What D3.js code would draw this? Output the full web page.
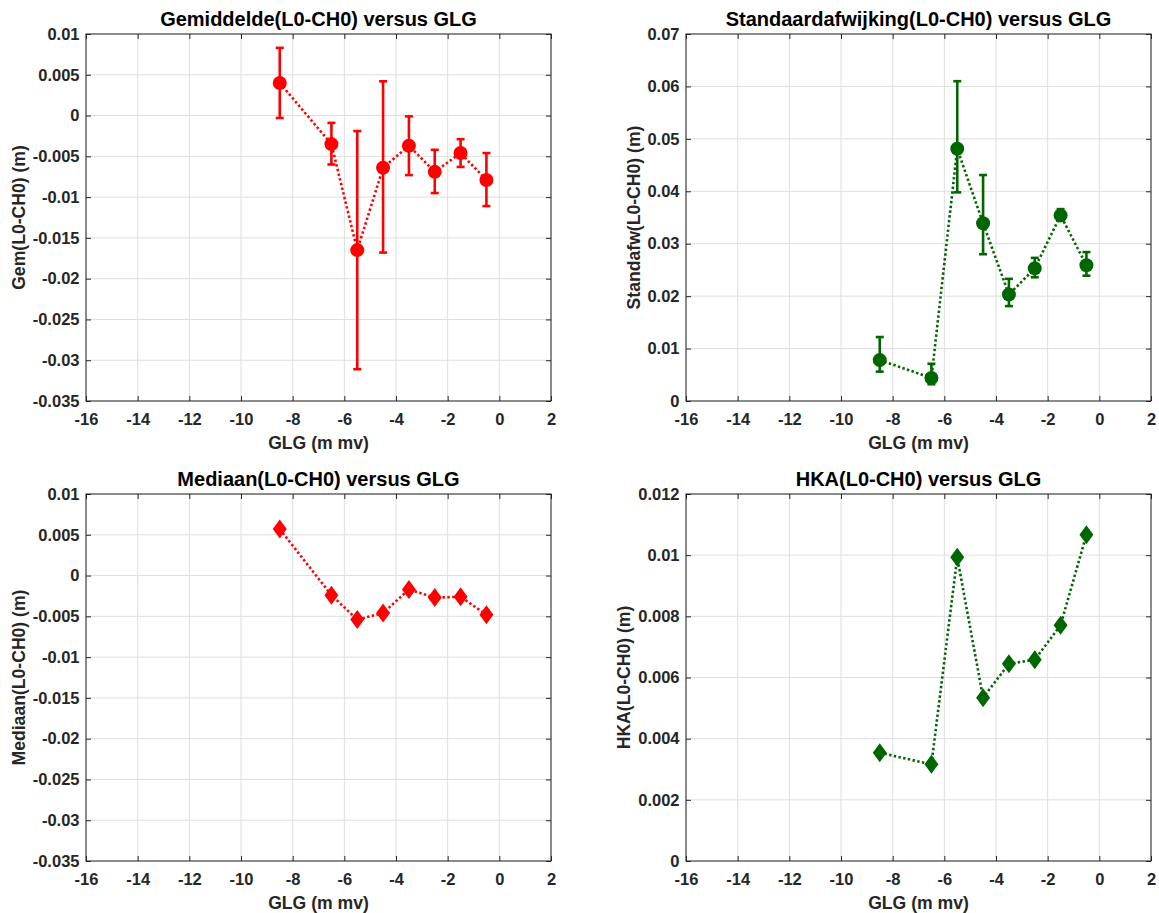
<!DOCTYPE html>
<html>
<head>
<meta charset="utf-8">
<script src="https://cdn.jsdelivr.net/npm/d3@7"></script>
<style>
  body { margin: 0; background: #fff; }
  svg { font-family: "Liberation Sans", Arial, sans-serif; font-weight: bold; }
</style>
</head>
<body>
<div id="chart"></div>
<script>
// GLG classes (m mv), same for all four panels
const glg = [-8.5, -6.5, -5.5, -4.5, -3.5, -2.5, -1.5, -0.5];
const xTicks = [-16, -14, -12, -10, -8, -6, -4, -2, 0, 2];

// Gemiddelde with error bar ends
const gemValues = [0.0040, -0.0035, -0.0165, -0.0064, -0.0037, -0.0069, -0.0046, -0.0079];
const gemLow    = [-0.0003, -0.0060, -0.0311, -0.0168, -0.0073, -0.0095, -0.0063, -0.0111];
const gemHigh   = [0.0083, -0.0009, -0.0019, 0.0042, -0.0001, -0.0042, -0.0029, -0.0046];

// Standaardafwijking with error bar ends
const stdValues = [0.0078, 0.0044, 0.0481, 0.0339, 0.0203, 0.0253, 0.0354, 0.0259];
const stdLow    = [0.0056, 0.0032, 0.0398, 0.0280, 0.0181, 0.0236, 0.0344, 0.0239];
const stdHigh   = [0.0122, 0.0071, 0.0610, 0.0431, 0.0233, 0.0273, 0.0366, 0.0284];

// Mediaan and HKA
const medValues = [0.0057, -0.0024, -0.0054, -0.0046, -0.0017, -0.0027, -0.0026, -0.0048];
const hkaValues = [0.00354, 0.00316, 0.00993, 0.00534, 0.00645, 0.00658, 0.00771, 0.01067];

const gemTicks = [0.01, 0.005, 0, -0.005, -0.01, -0.015, -0.02, -0.025, -0.03, -0.035];
const stdTicks = [0, 0.01, 0.02, 0.03, 0.04, 0.05, 0.06, 0.07];
const hkaTicks = [0, 0.002, 0.004, 0.006, 0.008, 0.01, 0.012];

const RED = "#ff0000", GREEN = "#006600", AXIS = "#262626";
const W = 465, H = 367;

const svg = d3.select("#chart").append("svg")
  .attr("width", 1159).attr("height", 913);

const panels = [
  { left: 86, top: 34, title: "Gemiddelde(L0-CH0) versus GLG", ylabel: "Gem(L0-CH0) (m)",
    domain: [-0.035, 0.01], ticks: gemTicks, values: gemValues, low: gemLow, high: gemHigh,
    color: RED, marker: "circle" },
  { left: 686, top: 34, title: "Standaardafwijking(L0-CH0) versus GLG", ylabel: "Standafw(L0-CH0) (m)",
    domain: [0, 0.07], ticks: stdTicks, values: stdValues, low: stdLow, high: stdHigh,
    color: GREEN, marker: "circle" },
  { left: 86, top: 494, title: "Mediaan(L0-CH0) versus GLG", ylabel: "Mediaan(L0-CH0) (m)",
    domain: [-0.035, 0.01], ticks: gemTicks, values: medValues,
    color: RED, marker: "diamond" },
  { left: 686, top: 494, title: "HKA(L0-CH0) versus GLG", ylabel: "HKA(L0-CH0) (m)",
    domain: [0, 0.012], ticks: hkaTicks, values: hkaValues,
    color: GREEN, marker: "diamond" },
];

const fmt = d => String(+d.toFixed(4));

panels.forEach(p => drawPanel(p));

function drawPanel(p) {
  const x = d3.scaleLinear().domain([-16, 2]).range([0, W]);
  const y = d3.scaleLinear().domain(p.domain).range([H, 0]);

  const g = svg.append("g").attr("transform", `translate(${p.left},${p.top})`);

  // grid
  g.append("g").selectAll("line").data(xTicks).join("line")
    .attr("x1", d => x(d)).attr("x2", d => x(d)).attr("y1", 0).attr("y2", H)
    .attr("stroke", "#dedede").attr("stroke-width", 1);
  g.append("g").selectAll("line").data(p.ticks).join("line")
    .attr("x1", 0).attr("x2", W).attr("y1", d => y(d)).attr("y2", d => y(d))
    .attr("stroke", "#dedede").attr("stroke-width", 1);

  // axes (ticks inward, mirrored on top/right)
  g.append("g").attr("transform", `translate(0,${H})`)
    .call(d3.axisBottom(x).tickValues(xTicks).tickSize(-5).tickPadding(12).tickFormat(fmt));
  const ya = g.append("g")
    .call(d3.axisLeft(y).tickValues(p.ticks).tickSize(-5).tickPadding(6.5).tickFormat(fmt));
  g.append("g").call(d3.axisTop(x).tickValues(xTicks).tickSize(-5).tickFormat(""));
  g.append("g").attr("transform", `translate(${W},0)`)
    .call(d3.axisRight(y).tickValues(p.ticks).tickSize(-5).tickFormat(""));

  g.selectAll(".domain").remove();
  g.selectAll(".tick line").attr("stroke", AXIS);
  g.selectAll(".tick text").attr("fill", AXIS)
    .style("font-size", "16.5px").style("font-family", "Liberation Sans, Arial, sans-serif")
    .style("font-weight", "bold");

  g.append("rect").attr("width", W).attr("height", H)
    .attr("fill", "none").attr("stroke", AXIS).attr("stroke-width", 1);

  // title
  g.append("text").attr("x", W / 2).attr("y", -8)
    .attr("text-anchor", "middle").attr("fill", "#000")
    .style("font-size", "20px").text(p.title);

  // x label
  g.append("text").attr("x", W / 2).attr("y", H + 48)
    .attr("text-anchor", "middle").attr("fill", AXIS)
    .style("font-size", "17.6px").text("GLG (m mv)");

  // y label placed left of widest tick label
  let minX = 0;
  ya.selectAll(".tick text").each(function () {
    minX = Math.min(minX, this.getBBox().x);
  });
  g.append("text")
    .attr("transform", `translate(${minX - 14},${H / 2}) rotate(-90)`)
    .attr("dy", "0.35em")
    .attr("text-anchor", "middle").attr("fill", AXIS)
    .style("font-size", "17.6px").text(p.ylabel);

  // dotted connecting line
  const line = d3.line().x((d, i) => x(glg[i])).y(d => y(d));
  g.append("path").datum(p.values)
    .attr("d", line).attr("fill", "none")
    .attr("stroke", p.color).attr("stroke-width", 2.6)
    .attr("stroke-dasharray", "2.4,2.4");

  // error bars
  if (p.low) {
    const eb = g.append("g").attr("stroke", p.color).attr("stroke-width", 2.6);
    glg.forEach((gx, i) => {
      const cx = x(gx);
      eb.append("line").attr("x1", cx).attr("x2", cx)
        .attr("y1", y(p.low[i])).attr("y2", y(p.high[i]));
      [p.low[i], p.high[i]].forEach(v => {
        eb.append("line").attr("x1", cx - 4).attr("x2", cx + 4)
          .attr("y1", y(v)).attr("y2", y(v));
      });
    });
  }

  // markers
  if (p.marker === "circle") {
    g.append("g").selectAll("circle").data(p.values).join("circle")
      .attr("cx", (d, i) => x(glg[i])).attr("cy", d => y(d))
      .attr("r", 7).attr("fill", p.color);
  } else {
    g.append("g").selectAll("path").data(p.values).join("path")
      .attr("d", (d, i) => {
        const cx = x(glg[i]), cy = y(d), a = 7, b = 9.5;
        return `M${cx},${cy - b}L${cx + a},${cy}L${cx},${cy + b}L${cx - a},${cy}Z`;
      })
      .attr("fill", p.color);
  }
}
</script>
</body>
</html>
